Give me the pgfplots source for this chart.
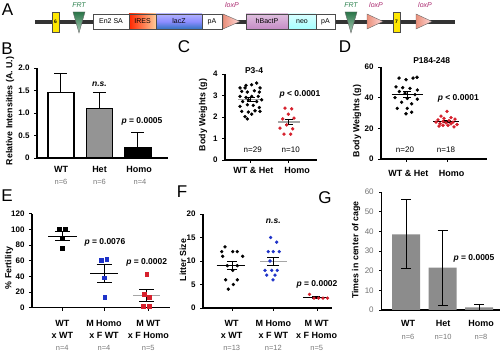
\documentclass[border=0pt]{standalone}
\usepackage{pgfplots}
\pgfplotsset{compat=1.18}
\usepackage{fontspec}
\setmainfont{Liberation Sans}
\definecolor{dred}{RGB}{214,32,44}
\definecolor{dblue}{RGB}{30,50,200}
\definecolor{ngray}{RGB}{120,120,120}
\definecolor{frtg}{RGB}{46,130,80}
\definecolor{loxc}{RGB}{170,40,110}
\begin{document}
\begin{tikzpicture}
\path[use as bounding box] (0,0) rectangle (500pt,352pt);
\pgfplotsset{
  panel/.style={scale only axis, anchor=south west, axis x line*=bottom, axis y line*=left,
    tick align=outside, major tick length=3pt, tick style={black, line width=0.8pt},
    axis line style={line width=1.3pt}, clip=false,
    /pgf/number format/assume math mode=true,
    yticklabel style={font=\bfseries\fontsize{8}{9}\selectfont, xshift=-1pt},
    xticklabels={}},
  ebar/.style={black, line width=1pt, mark=none, forget plot,
    error bars/.cd, y dir=both, y explicit, error bar style={line width=1pt},
    error mark options={rotate=90, line width=1pt, mark size=#1}},
  ebar/.default=5pt,
  dots/.style={only marks, mark=*, mark size=1.5pt, #1, mark options={fill=#1, draw=#1}},
  sq/.style={only marks, mark=square*, mark size=1.9pt, #1, mark options={fill=#1, draw=#1}},
}
\tikzset{
  cat/.style={font=\bfseries\fontsize{9}{10}\selectfont, inner sep=0pt},
  nl/.style={font=\fontsize{7.5}{8}\selectfont, text=ngray, inner sep=0pt},
  nb/.style={font=\fontsize{8}{9}\selectfont, inner sep=0pt},
  pv/.style={font=\bfseries\fontsize{8.5}{9}\selectfont, inner sep=0pt},
  ylab/.style={font=\bfseries\fontsize{8.8}{9}\selectfont, rotate=90, inner sep=0pt},
  plet/.style={font=\fontsize{17}{17}\selectfont, inner sep=0pt},
  gtxt/.style={font=\fontsize{7}{8}\selectfont, inner sep=0pt},
}
% ---------------- Panel A (diagram) ----------------
\node[plet] at (7.5pt,342pt) {A};
\draw[line width=3.5pt, black!80] (35pt,330pt) -- (455pt,330pt);
\filldraw[fill=yellow!90!orange, draw=black!70, line width=0.4pt] (52pt,320pt) rectangle (59pt,340pt);
\node[font=\bfseries\fontsize{5}{5}\selectfont] at (55.5pt,330pt) {6};
\shade[top color=frtg!90!black, bottom color=frtg!40] (73pt,340pt) -- (85pt,340pt) -- (79pt,319pt) -- cycle;
\draw[black!60, line width=0.4pt] (73pt,340pt) -- (85pt,340pt) -- (79pt,319pt) -- cycle;
\filldraw[fill=white, draw=black!70, line width=0.4pt] (93pt,323pt) rectangle (129pt,338pt);
\shade[left color=red!70!orange, right color=orange!40] (129pt,323pt) rectangle (156pt,338pt);
\draw[black!70, line width=0.4pt] (129pt,323pt) rectangle (156pt,338pt);
\shade[top color=blue!30, bottom color=blue!55!cyan!70!black!80, middle color=blue!45!white] (156pt,323pt) rectangle (202pt,338pt);
\draw[black!70, line width=0.4pt] (156pt,323pt) rectangle (202pt,338pt);
\filldraw[fill=white, draw=black!70, line width=0.4pt] (202pt,323pt) rectangle (222pt,338pt);
\shade[left color=red!45!brown!60, right color=red!15!white] (223pt,338pt) -- (223pt,323pt) -- (240pt,330.5pt) -- cycle;
\draw[black!60, line width=0.4pt] (223pt,338pt) -- (223pt,323pt) -- (240pt,330.5pt) -- cycle;
\shade[top color=violet!25, bottom color=violet!45] (246pt,323pt) rectangle (288pt,338pt);
\draw[black!70, line width=0.4pt] (246pt,323pt) rectangle (288pt,338pt);
\shade[top color=cyan!15, bottom color=cyan!35] (288pt,323pt) rectangle (316pt,338pt);
\draw[black!70, line width=0.4pt] (288pt,323pt) rectangle (316pt,338pt);
\filldraw[fill=white, draw=black!70, line width=0.4pt] (316pt,323pt) rectangle (335pt,338pt);
\shade[top color=frtg!90!black, bottom color=frtg!40] (345pt,340pt) -- (357pt,340pt) -- (351pt,319pt) -- cycle;
\draw[black!60, line width=0.4pt] (345pt,340pt) -- (357pt,340pt) -- (351pt,319pt) -- cycle;
\shade[left color=red!45!brown!60, right color=red!15!white] (367pt,338pt) -- (367pt,323pt) -- (383pt,330.5pt) -- cycle;
\draw[black!60, line width=0.4pt] (367pt,338pt) -- (367pt,323pt) -- (383pt,330.5pt) -- cycle;
\filldraw[fill=yellow!90!orange, draw=black!70, line width=0.4pt] (393pt,320pt) rectangle (400pt,340pt);
\node[font=\bfseries\fontsize{5}{5}\selectfont] at (396.5pt,330pt) {7};
\shade[left color=red!45!brown!60, right color=red!15!white] (416pt,338pt) -- (416pt,323pt) -- (432pt,330.5pt) -- cycle;
\draw[black!60, line width=0.4pt] (416pt,338pt) -- (416pt,323pt) -- (432pt,330.5pt) -- cycle;
\node[gtxt] at (111pt,330.5pt) {En2 SA};
\node[gtxt] at (142.5pt,330.5pt) {IRES};
\node[gtxt] at (179pt,330.5pt) {lacZ};
\node[gtxt] at (212pt,330.5pt) {pA};
\node[gtxt] at (267pt,330.5pt) {hBactP};
\node[gtxt] at (302pt,330.5pt) {neo};
\node[gtxt] at (325.5pt,330.5pt) {pA};
\node[gtxt, text=frtg, font=\itshape\fontsize{7}{8}\selectfont] at (79pt,347pt) {FRT};
\node[gtxt, text=frtg, font=\itshape\fontsize{7}{8}\selectfont] at (351pt,347pt) {FRT};
\node[gtxt, text=loxc, font=\itshape\fontsize{7}{8}\selectfont] at (232pt,347pt) {loxP};
\node[gtxt, text=loxc, font=\itshape\fontsize{7}{8}\selectfont] at (376pt,347pt) {loxP};
\node[gtxt, text=loxc, font=\itshape\fontsize{7}{8}\selectfont] at (425pt,347pt) {loxP};

% ---------------- Panel B ----------------
\node[plet] at (7pt,303pt) {B};
\begin{axis}[panel, at={(37pt,194pt)}, width=131pt, height=90pt,
  xmin=-0.623, xmax=2.78, ymin=0, ymax=2, ytick={0,0.5,1,1.5,2},
  yticklabels={0,0.5,1.0,1.5,2.0}, xtick=\empty]
\addplot[ybar, bar shift=0pt, bar width=26pt, fill=white, draw=black, line width=1.3pt,
  error bars/.cd, y dir=plus, y explicit, error bar style={line width=1pt},
  error mark options={rotate=90, line width=1pt, mark size=6.5pt}] coordinates {(0,1.45) +- (0,0.42)};
\addplot[ybar, bar shift=0pt, bar width=26pt, fill=black!42, draw=black, line width=1.3pt,
  error bars/.cd, y dir=plus, y explicit, error bar style={line width=1pt},
  error mark options={rotate=90, line width=1pt, mark size=6.5pt}] coordinates {(1,1.10) +- (0,0.35)};
\addplot[ybar, bar shift=0pt, bar width=26pt, fill=black, draw=black, line width=1.3pt,
  error bars/.cd, y dir=plus, y explicit, error bar style={line width=1pt},
  error mark options={rotate=90, line width=1pt, mark size=6.5pt}] coordinates {(2,0.22) +- (0,0.35)};
\end{axis}
\node[ylab] at (10pt,241pt) {Relative Intensities (A. U.)};
\node[cat] at (61pt,183pt) {WT};
\node[cat] at (99.5pt,183pt) {Het};
\node[cat] at (139pt,183pt) {Homo};
\node[nl] at (61pt,170pt) {n=6};
\node[nl] at (99.5pt,170pt) {n=6};
\node[nl] at (140pt,170pt) {n=4};
\node[pv] at (99.5pt,268pt) {\textit{n.s.}};
\node[pv] at (142pt,231pt) {\textit{p} = 0.0005};

% ---------------- Panel C ----------------
\node[plet] at (184pt,305pt) {C};
\begin{axis}[panel, at={(225pt,192pt)}, width=92pt, height=86pt,
  xmin=0, xmax=92, ymin=0, ymax=4, ytick={0,1,2,3,4}, xtick={25,63}]
\addplot[dots=black] coordinates {
(21.0,3.47) (26.7,3.50) (31.7,3.58) (15,3.35) (20,3.35) (35,3.35) (16.7,3.19) (22.3,3.16)
(29.3,3.22) (34.3,3.16) (15,2.96) (21,2.91) (26.7,2.96) (33.3,2.96) (17.7,2.72) (23.3,2.80)
(31.7,2.72) (36.7,2.80) (15,2.49) (22.3,2.57) (28.3,2.54) (34.3,2.44) (16.7,2.26) (23.3,2.23)
(30,2.29) (35,2.26) (20,2.02) (26.7,2.13) (22.3,1.91)};
\addplot[dots=dred] coordinates {
(60,2.41) (66.7,2.38) (63.3,2.13) (57.7,1.91) (69,1.95) (61.7,1.63) (55,1.48) (67.7,1.45)
(59,1.20) (65.7,1.20)};
\addplot[black!35, line width=1.3pt, forget plot] coordinates {(13,2.80) (38,2.80)};
\addplot[black!35, line width=1.3pt, forget plot] coordinates {(53,1.77) (75,1.77)};
\addplot[ebar=4pt] coordinates {(25.5,2.80) +- (0,0.09)};
\addplot[ebar=4pt] coordinates {(63.5,1.77) +- (0,0.13)};
\end{axis}
\node[ylab] at (203pt,237pt) {Body Weights (g)};
\node[pv] at (254pt,281.5pt) {P3-4};
\node[pv] at (300pt,258pt) {\textit{p} < 0.0001};
\node[nb] at (252.7pt,202.7pt) {n=29};
\node[nb] at (290.7pt,202.7pt) {n=10};
\node[cat] at (253.3pt,182pt) {WT \& Het};
\node[cat] at (297pt,182pt) {Homo};

% ---------------- Panel D ----------------
\node[plet] at (345pt,305pt) {D};
\begin{axis}[panel, at={(381pt,193pt)}, width=106pt, height=92pt,
  xmin=0, xmax=106, ymin=0, ymax=60, ytick={0,20,40,60}, xtick={25,66}]
\addplot[dots=black] coordinates {
(18,52.8) (25,51.7) (32,52.8) (36,53.3)
(15,47) (21.7,46.5) (29,46) (36.3,45)
(18.3,44) (24,43) (34,42)
(14,40) (26.3,39.5) (36.3,39)
(20.7,37) (30.7,36)
(16.3,33) (26.3,33)
(25,29.5) (30.7,30.5)};
\addplot[dots=dred] coordinates {
(66,31) (60,28) (70,27) (63,26.5) (74,26) (57,25.5) (68,25) (62,24.5) (72,24)
(55,24) (65,23.5) (59,23) (70,23) (76,22.5) (62,22) (67,22) (58,21.5) (73,21)};
\addplot[black, line width=1.3pt, forget plot] coordinates {(10.7,42) (42.3,42)};
\addplot[black, line width=1.3pt, forget plot] coordinates {(52,24.4) (78,24.4)};
\addplot[ebar=4pt] coordinates {(26,42) +- (0,1.7)};
\addplot[ebar=4pt] coordinates {(65.5,24.4) +- (0,0.7)};
\end{axis}
\node[ylab] at (357pt,231pt) {Body Weights (g)};
\node[pv] at (431.7pt,291pt) {P184-248};
\node[pv] at (458.3pt,253.7pt) {\textit{p} < 0.0001};
\node[nb] at (405pt,202.7pt) {n=20};
\node[nb] at (446pt,202.7pt) {n=18};
\node[cat] at (408.3pt,178.7pt) {WT \& Het};
\node[cat] at (451.7pt,178.7pt) {Homo};

% ---------------- Panel E ----------------
\node[plet] at (7pt,156pt) {E};
\begin{axis}[panel, at={(32pt,44.3pt)}, width=138pt, height=94pt,
  xmin=0, xmax=138, ymin=0, ymax=120, ytick={0,20,...,120}, xtick={30,72,116}]
\addplot[sq=black] coordinates {(27.3,100) (33,100) (30.3,88) (30.3,76)};
\addplot[sq=dblue] coordinates {(69,60.5) (74.7,62.2) (72,38.3) (72.7,13.3)};
\addplot[sq=dred] coordinates {(114.7,43) (112,17) (117,13) (111.3,2) (117,1.5)};
\addplot[black, line width=1.3pt, forget plot] coordinates {(16.3,91.3) (44.7,91.3)};
\addplot[black, line width=1.3pt, forget plot] coordinates {(58,43.5) (86.3,43.5)};
\addplot[black!35, line width=1.3pt, forget plot] coordinates {(101.3,15.3) (128,15.3)};
\addplot[ebar=7.5pt] coordinates {(30.5,91.3) +- (0,5.7)};
\addplot[ebar=7.5pt] coordinates {(72,43.5) +- (0,11.5)};
\addplot[ebar=7.5pt] coordinates {(114.5,15.3) +- (0,7.8)};
\end{axis}
\node[ylab] at (9pt,84pt) {\% Fertility};
\node[pv] at (105pt,109.7pt) {\textit{p} = 0.0076};
\node[pv] at (146.7pt,89.3pt) {\textit{p} = 0.0002};
\node[cat] at (62.3pt,29pt) {WT};
\node[cat] at (62.3pt,17pt) {x WT};
\node[nl] at (62.3pt,4pt) {n=4};
\node[cat] at (104pt,29pt) {M Homo};
\node[cat] at (104pt,17pt) {x F WT};
\node[nl] at (104pt,4pt) {n=4};
\node[cat] at (148.3pt,29pt) {M WT};
\node[cat] at (148.3pt,17pt) {x F Homo};
\node[nl] at (148.3pt,4pt) {n=5};

% ---------------- Panel F ----------------
\node[plet] at (182pt,160pt) {F};
\begin{axis}[panel, at={(203pt,44pt)}, width=129pt, height=94pt,
  xmin=0, xmax=129, ymin=0, ymax=20, ytick={0,5,...,20}, xtick={29,70,114}]
\addplot[dots=black] coordinates {
(22,13) (18.7,12) (29.7,12) (34.3,12) (19.7,11) (39.7,11) (24.3,9) (34.3,9)
(29.7,8) (22.7,6) (34.3,6) (30.3,5) (25.3,4)};
\addplot[dots=dblue] coordinates {
(67.7,15) (73.7,14) (65.3,12) (70.3,12) (76.3,12) (67,10) (62,8) (68.7,8) (74.3,8)
(63.7,7) (72,7) (70,6)};
\addplot[dots=dred] coordinates {(106.5,2.9) (111,2.1) (115.5,2.1) (120,2.1) (124.5,2.1)};
\addplot[black, line width=1.3pt, forget plot] coordinates {(13.7,9.08) (42,9.08)};
\addplot[black!35, line width=1.3pt, forget plot] coordinates {(57,9.9) (84,9.9)};
\addplot[black, line width=1.3pt, forget plot] coordinates {(100,2.2) (125,2.2)};
\addplot[ebar=5pt] coordinates {(29,9.08) +- (0,0.84)};
\addplot[ebar=6pt] coordinates {(70,9.9) +- (0,0.85)};
\addplot[ebar=4pt] coordinates {(113,2.2) +- (0,0.2)};
\end{axis}
\node[ylab] at (183pt,92pt) {Litter Size};
\node[pv] at (273.3pt,130.3pt) {\textit{n.s.}};
\node[pv] at (317pt,67.7pt) {\textit{p} = 0.0002};
\node[cat] at (231.7pt,29pt) {WT};
\node[cat] at (231.7pt,17pt) {x WT};
\node[nl] at (231.7pt,4pt) {n=13};
\node[cat] at (273.3pt,29pt) {M Homo};
\node[cat] at (273.3pt,17pt) {x F WT};
\node[nl] at (273.3pt,4pt) {n=12};
\node[cat] at (316.7pt,29pt) {M WT};
\node[cat] at (316.7pt,17pt) {x F Homo};
\node[nl] at (316.7pt,4pt) {n=5};

% ---------------- Panel G ----------------
\node[plet] at (325pt,154pt) {G};
\begin{axis}[panel, at={(381.7pt,42pt)}, width=118.3pt, height=118pt,
  xmin=-0.666, xmax=2.575, ymin=0, ymax=60, ytick={0,10,...,60}, xtick=\empty,
  x axis line style={line width=2pt}, y axis line style={line width=0.7pt},
  ytick style={black, line width=0.5pt}, major tick length=2.5pt,
  yticklabel style={font=\fontsize{8}{9}\selectfont, text=black!55, xshift=-1pt}]
\addplot[ybar, bar shift=0pt, bar width=28pt, fill=black!45, draw=none,
  error bars/.cd, y dir=both, y explicit, error bar style={line width=1pt, black},
  error mark options={rotate=90, line width=1pt, mark size=5pt, black}] coordinates {
  (0,38.5) +- (0,17.5) (1,21.5) +- (0,19) (2,1.3) +- (0,1.7)};
\end{axis}
\node[ylab] at (356pt,102pt) {Times in center of cage};
\node[pv] at (474pt,93.7pt) {\textit{p} = 0.0005};
\node[cat] at (408pt,29pt) {WT};
\node[cat] at (443pt,29pt) {Het};
\node[cat] at (481pt,29pt) {Homo};
\node[nl] at (408pt,15pt) {n=6};
\node[nl] at (443pt,15pt) {n=10};
\node[nl] at (481pt,15pt) {n=8};
\end{tikzpicture}
\end{document}
